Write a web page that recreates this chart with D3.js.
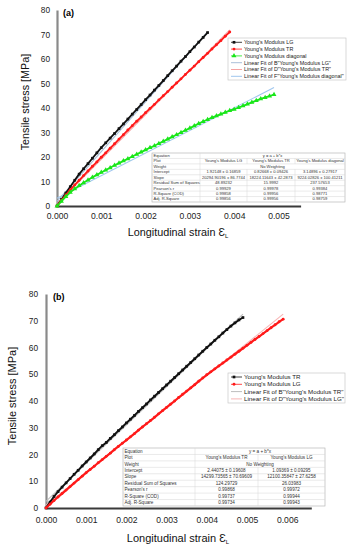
<!DOCTYPE html>
<html><head><meta charset="utf-8">
<script src="https://cdn.jsdelivr.net/npm/d3@7"></script>
<style>body{margin:0;background:#fff}svg{display:block;font-family:"Liberation Sans",Arial,sans-serif}</style>
</head><body>
<svg id="c" width="354" height="550"></svg>
<script>
// ---------- data (panel a) ----------
const strainA = [0,0.0001,0.0002,0.0003,0.0004,0.0005,0.0006,0.0007,0.0008,0.0009,0.0010,0.0011,0.0012,0.0013,0.0014,0.0015,0.0016,0.0017,0.0018,0.0019,0.0020,0.0021,0.0022,0.0023,0.0024,0.0025,0.0026,0.0027,0.0028,0.0029,0.0030,0.0031,0.0032,0.0033,0.0034,0.0035,0.0036,0.0037,0.0038,0.0039,0.0040,0.0041,0.0042,0.0043,0.0044,0.0045,0.0046,0.0047,0.0048,0.0049];
const lgA = [0,2.7,5.3,7.9,10.5,13.0,15.2,17.3,19.5,21.7,23.8,25.8,27.7,29.6,31.6,33.5,35.5,37.5,39.4,41.4,43.4,45.3,47.3,49.2,51.2,53.2,55.2,57.1,59.1,61.0,63.0,64.9,66.9,68.8,70.8];
const trA = [0,2.3,4.5,6.6,8.6,10.5,12.4,14.3,16.2,18.0,19.9,21.7,23.6,25.4,27.3,29.1,31.0,32.8,34.6,36.3,38.1,39.8,41.5,43.3,45.0,46.7,48.5,50.2,51.9,53.7,55.4,57.1,58.9,60.6,62.3,64.1,65.8,67.5,69.3,71.0];
const diagA = [0,1.9,3.8,5.6,7.0,8.3,9.5,10.6,11.7,12.7,13.7,14.7,15.6,16.6,17.5,18.4,19.3,20.2,21.1,22.0,22.9,23.8,24.6,25.5,26.4,27.3,28.2,29.1,30.0,30.9,31.8,32.7,33.6,34.5,35.3,36.1,36.8,37.5,38.2,38.9,39.5,40.2,40.9,41.6,42.3,43.0,43.7,44.3,44.9,45.5];
const interceptA = [1.92148, 0.82668, 3.14896];
const slopeA = [20294.90196, 18224.11643, 9224.02826];
const seriesNamesA = ["Young's Modulus LG","Young's Modulus TR","Young's Modulus diagonal"];
const fitNamesA = ['Linear Fit of B"Young\'s Modulus LG"','Linear Fit of D"Young\'s Modulus TR"','Linear Fit of F"Young\'s Modulus diagonal"'];
const tableLabels = ["Equation","Plot","Weight","Intercept","Slope","Residual Sum of Squares","Pearson's r","R-Square (COD)","Adj. R-Square"];
const tableA = [
  ["1.92148 ± 0.16859","0.82668 ± 0.09426","3.14896 ± 0.27917"],
  ["20294.90196 ± 86.7744","18224.11643 ± 42.2873","9224.02826 ± 100.41211"],
  ["48.89232","15.9992","237.57653"],
  ["0.99929","0.99978","0.99384"],
  ["0.99858","0.99956","0.98771"],
  ["0.99856","0.99956","0.98759"]
];
// ---------- data (panel b) ----------
const strainB = [0,0.0001,0.0002,0.0003,0.0004,0.0005,0.0006,0.0007,0.0008,0.0009,0.0010,0.0011,0.0012,0.0013,0.0014,0.0015,0.0016,0.0017,0.0018,0.0019,0.0020,0.0021,0.0022,0.0023,0.0024,0.0025,0.0026,0.0027,0.0028,0.0029,0.0030,0.0031,0.0032,0.0033,0.0034,0.0035,0.0036,0.0037,0.0038,0.0039,0.0040,0.0041,0.0042,0.0043,0.0044,0.0045,0.0046,0.0047,0.0048,0.0049,0.0050,0.0051,0.0052,0.0053,0.0054,0.0055,0.0056,0.0057,0.0058,0.0059];
const trB = [0,2.2,4.3,6.1,7.8,9.4,11.0,12.6,14.1,15.7,17.2,18.7,20.2,21.8,23.3,24.5,26.0,27.4,28.9,30.3,31.8,33.2,34.6,36.1,37.5,38.9,40.4,41.8,43.2,44.6,46.0,47.4,48.8,50.2,51.6,53.0,54.4,55.8,57.2,58.6,60.0,61.3,62.7,64.0,65.4,66.7,68.0,69.2,70.3,71.2];
const lgB = [0,1.4,2.8,4.1,5.4,6.7,8.0,9.3,10.6,11.9,13.2,14.4,15.6,16.9,18.1,19.3,20.5,21.8,23.0,24.2,25.4,26.6,27.8,29.1,30.3,31.5,32.7,33.9,35.2,36.4,37.6,38.8,40.0,41.3,42.5,43.7,44.9,46.1,47.4,48.6,49.8,50.9,52.0,53.1,54.2,55.3,56.4,57.5,58.6,59.7,60.8,61.9,63.0,64.1,65.2,66.3,67.4,68.5,69.6,70.6];
const interceptB = [2.44075, 1.09369];
const slopeB = [14299.73565, 12100.35847];
const seriesNamesB = ["Young's Modulus TR","Young's Modulus LG"];
const fitNamesB = ['Linear Fit of B"Young\'s Modulus TR"','Linear Fit of D"Young\'s Modulus LG"'];
const tableB = [
  ["2.44075 ± 0.19608","1.09369 ± 0.09295"],
  ["14299.73565 ± 70.69609","12100.35847 ± 27.6258"],
  ["124.29729","26.03983"],
  ["0.99868","0.99972"],
  ["0.99737","0.99944"],
  ["0.99734","0.99943"]
];
const yTicks = [0,10,20,30,40,50,60,70,80];
const xTicksA = [0,0.001,0.002,0.003,0.004,0.005];
const xTicksB = [0,0.001,0.002,0.003,0.004,0.005,0.006];

const svg = d3.select("#c");
const FONT = '"Liberation Sans",Arial,sans-serif';

function marker(g, type, x, y, color, s) {
  if (type === "square") g.append("rect").attr("x", x - s/2).attr("y", y - s/2).attr("width", s).attr("height", s).attr("fill", color);
  else if (type === "circle") g.append("circle").attr("cx", x).attr("cy", y).attr("r", s/2).attr("fill", color);
  else g.append("path").attr("d", d3.symbol(d3.symbolTriangle, s*s*0.9)()).attr("transform", `translate(${x},${y})`).attr("fill", color);
}

function panel(cfg) {
  const g = svg.append("g");
  const x = d3.scaleLinear().domain(cfg.xDomain).range(cfg.xRange);
  const y = d3.scaleLinear().domain([0, 80]).range(cfg.yRange);

  // axes
  const ya = g.append("g").attr("transform", `translate(${cfg.xRange[0]},0)`)
    .call(d3.axisLeft(y).tickValues(yTicks).tickSize(0).tickPadding(cfg.yPad).tickFormat(d3.format("d")));
  ya.select(".domain").attr("stroke", "#8a8a8a").attr("stroke-width", 2.2);
  ya.selectAll("text").attr("font-size", 8.3).attr("font-family", FONT).attr("fill", "#222");
  const xa = g.append("g").attr("transform", `translate(0,${cfg.yRange[0]})`)
    .call(d3.axisBottom(x).tickValues(cfg.xTicks).tickSize(0).tickPadding(cfg.xPad).tickFormat(d3.format(".3f")));
  xa.select(".domain").attr("stroke", "#3a3a3a").attr("stroke-width", 1.8);
  xa.selectAll("text").attr("font-size", 8.6).attr("font-family", FONT).attr("fill", "#222");

  const line = d3.line().x(d => x(d[0])).y(d => y(d[1]));
  // fit lines (under the data)
  cfg.series.forEach((s, i) => {
    const xEnd = cfg.strain[s.values.length - 1];
    const fp = [[0, cfg.intercept[i]], [xEnd, cfg.intercept[i] + cfg.slope[i] * xEnd]];
    g.append("path").datum(fp).attr("d", line).attr("fill", "none").attr("stroke", s.fitColor).attr("stroke-width", 1.1);
  });
  // series
  cfg.series.forEach(s => {
    const pts = s.values.map((v, i) => [cfg.strain[i], v]);
    g.append("path").datum(pts).attr("d", line).attr("fill", "none").attr("stroke", s.color).attr("stroke-width", s.lw);
    const mg = g.append("g");
    pts.forEach(p => marker(mg, s.type, x(p[0]), y(p[1]), s.color, s.size));
  });

  // panel label
  g.append("text").attr("x", cfg.label[1]).attr("y", cfg.label[2]).attr("font-size", 9).attr("font-weight", "bold")
    .attr("font-family", FONT).text(cfg.label[0]);

  // axis titles
  const xt = g.append("text").attr("x", cfg.xTitle[0]).attr("y", cfg.xTitle[1]).attr("text-anchor", "middle")
    .attr("font-size", cfg.titleSize).attr("font-family", FONT).attr("fill", "#111");
  xt.append("tspan").text("Longitudinal strain ");
  xt.append("tspan").text("Ɛ");
  xt.append("tspan").attr("font-size", cfg.titleSize * 0.55).attr("dy", 2).text("L");
  g.append("text").attr("transform", `translate(${cfg.yTitle[0]},${cfg.yTitle[1]}) rotate(-90)`).attr("text-anchor", "middle")
    .attr("font-size", cfg.titleSize).attr("font-family", FONT).attr("fill", "#111").text("Tensile stress [MPa]");

  // legend
  const L = cfg.legend;
  const lg = g.append("g");
  lg.append("rect").attr("x", L.x).attr("y", L.y).attr("width", L.w).attr("height", L.h).attr("fill", "#fff").attr("stroke", "#c8c8c8").attr("stroke-width", 0.7);
  const entries = [];
  cfg.series.forEach((s, i) => entries.push({ name: cfg.names[i], color: s.color, type: s.type, size: s.size }));
  cfg.series.forEach((s, i) => entries.push({ name: cfg.fitNames[i], color: s.fitColor }));
  entries.forEach((e, i) => {
    const yy = L.y + L.first + i * L.step;
    lg.append("line").attr("x1", L.x + 3).attr("x2", L.x + 14).attr("y1", yy).attr("y2", yy).attr("stroke", e.color).attr("stroke-width", e.type ? 0.8 : 1);
    if (e.type) marker(lg, e.type, L.x + 6, yy, e.color, e.size);
    lg.append("text").attr("x", L.x + 16).attr("y", yy + L.fs * 0.35).attr("font-size", L.fs).attr("font-family", FONT).attr("fill", "#222").text(e.name);
  });

  // table
  const T = cfg.table;
  const tg = g.append("g");
  const nRows = tableLabels.length;
  const rh = T.h / nRows;
  tg.append("rect").attr("x", T.cols[0]).attr("y", T.y).attr("width", T.cols[T.cols.length - 1] - T.cols[0]).attr("height", T.h)
    .attr("fill", "#fff").attr("stroke", "#b8b8b8").attr("stroke-width", 0.7);
  for (let r = 1; r < nRows; r++) tg.append("line").attr("x1", T.cols[0]).attr("x2", T.cols[T.cols.length - 1])
    .attr("y1", T.y + r * rh).attr("y2", T.y + r * rh).attr("stroke", "#d4d4d4").attr("stroke-width", 0.5);
  tg.append("line").attr("x1", T.cols[1]).attr("x2", T.cols[1]).attr("y1", T.y).attr("y2", T.y + T.h).attr("stroke", "#d4d4d4").attr("stroke-width", 0.5);
  for (let c = 2; c < T.cols.length - 1; c++) {
    [[1, 2], [3, nRows]].forEach(([a, b]) => tg.append("line").attr("x1", T.cols[c]).attr("x2", T.cols[c])
      .attr("y1", T.y + a * rh).attr("y2", T.y + b * rh).attr("stroke", "#d4d4d4").attr("stroke-width", 0.5));
  }
  const txt = (xx, r, s, anchor) => tg.append("text").attr("x", xx).attr("y", T.y + r * rh + rh * 0.72)
    .attr("font-size", T.fs).attr("font-family", FONT).attr("fill", "#333").attr("text-anchor", anchor).text(s);
  tableLabels.forEach((s, r) => txt(T.cols[0] + 1.5, r, s, "start"));
  const spanMid = (T.cols[1] + T.cols[T.cols.length - 1]) / 2;
  txt(spanMid, 0, "y = a + b*x", "middle");
  txt(spanMid, 2, "No Weighting", "middle");
  cfg.names.forEach((n, c) => txt((T.cols[c + 1] + T.cols[c + 2]) / 2, 1, n, "middle"));
  cfg.tableVals.forEach((row, r) => row.forEach((v, c) => txt((T.cols[c + 1] + T.cols[c + 2]) / 2, r + 3, v, "middle")));
}

panel({
  xDomain: [0, 0.0055], xRange: [57, 300.6], yRange: [206, 10], yPad: 7, xPad: 7,
  xTicks: xTicksA, strain: strainA,
  series: [
    { values: lgA, color: "#111111", type: "square", size: 2.7, lw: 1.8, fitColor: "#a9bfd9" },
    { values: trA, color: "#ff1a1a", type: "circle", size: 2.9, lw: 1.8, fitColor: "#f5a3a3" },
    { values: diagA, color: "#19e619", type: "triangle", size: 3.4, lw: 1.8, fitColor: "#9fc6ee" }
  ],
  intercept: interceptA, slope: slopeA, names: seriesNamesA, fitNames: fitNamesA,
  label: ["(a)", 63, 16], xTitle: [178, 236], yTitle: [29, 102], titleSize: 10.8,
  legend: { x: 228, y: 38, w: 118, h: 42, first: 4.3, step: 6.8, fs: 5.4 },
  table: { cols: [152, 200, 247, 295, 345], y: 153, h: 49, fs: 4.1 },
  tableVals: tableA
});
panel({
  xDomain: [0, 0.0066], xRange: [46, 311.3], yRange: [508, 294], yPad: 8, xPad: 8.5,
  xTicks: xTicksB, strain: strainB,
  series: [
    { values: trB, color: "#111111", type: "square", size: 2.7, lw: 1.9, fitColor: "#bdbdbd" },
    { values: lgB, color: "#ff1a1a", type: "circle", size: 2.9, lw: 2.2, fitColor: "#f7b5b5" }
  ],
  intercept: interceptB, slope: slopeB, names: seriesNamesB, fitNames: fitNamesB,
  label: ["(b)", 53, 300], xTitle: [178, 542], yTitle: [16, 396], titleSize: 11,
  legend: { x: 228, y: 373, w: 117, h: 30, first: 4, step: 7.3, fs: 6.2 },
  table: { cols: [123, 195, 258, 325], y: 448, h: 58, fs: 4.6 },
  tableVals: tableB
});
</script>
</body></html>
